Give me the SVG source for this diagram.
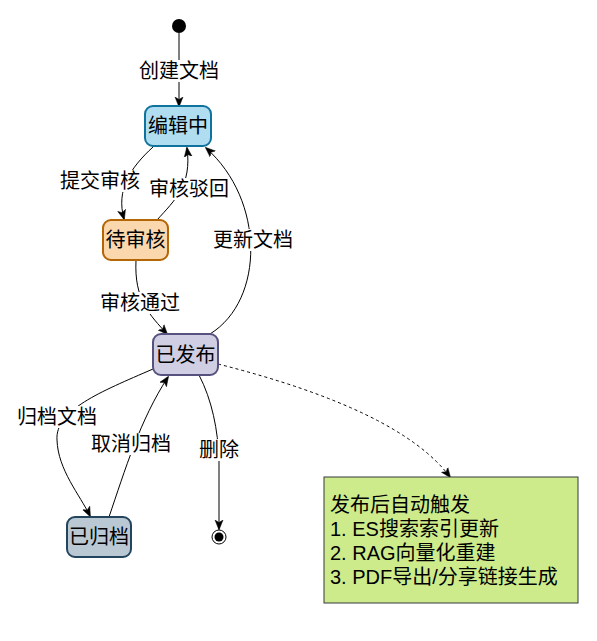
<svg xmlns="http://www.w3.org/2000/svg" width="597" height="641" viewBox="0 0 597 641">
<style>
text{font-family:"Liberation Sans","Noto Sans CJK SC",sans-serif;fill:#000;}
.n{font-size:20px;text-anchor:middle;dominant-baseline:central;}
.l{font-size:20px;text-anchor:middle;dominant-baseline:central;}
.t{font-size:20px;}
.e{fill:none;stroke:#000;stroke-width:1;marker-end:url(#arr);}
.d{stroke-dasharray:3 3;}
.bg{fill:#fff;}
</style>
<defs>
<marker id="arr" viewBox="0 0 10 10" refX="9" refY="5" markerWidth="10" markerHeight="10" markerUnits="userSpaceOnUse" orient="auto">
<path d="M0,1 L10,5 L0,9 L2.5,5 z" fill="#000" stroke="#000" stroke-width="0.5"/>
</marker>
</defs>
<rect width="597" height="641" fill="#fff"/>
<g id="edges">
<path class="e" d="M179,33 L179,106"/>
<path class="e" d="M153,147 C130,168 116,190 124,219"/>
<path class="e" d="M157,220 C175,200 192,185 187,148"/>
<path class="e" d="M210,334 C265,300 265,200 206,148"/>
<path class="e" d="M136,260 C134,300 150,315 167,334"/>
<path class="e" d="M153,369 C100,392 55,410 57,440 C58,470 80,495 90,516"/>
<path class="e" d="M109,517 C125,470 140,420 168,377"/>
<path class="e" d="M199,375 C212,400 218,430 219,460 L219,529"/>
<path class="e d" d="M218,364 Q400,410 450,477"/>
<rect class="bg" x="138" y="60" width="82" height="22"/>
<text class="l" x="179" y="71">创建文档</text>
<rect class="bg" x="59" y="170" width="82" height="22"/>
<text class="l" x="100" y="181">提交审核</text>
<rect class="bg" x="148" y="178" width="82" height="22"/>
<text class="l" x="189" y="189">审核驳回</text>
<rect class="bg" x="212" y="229" width="82" height="22"/>
<text class="l" x="253" y="240">更新文档</text>
<rect class="bg" x="99" y="292" width="82" height="22"/>
<text class="l" x="140" y="303">审核通过</text>
<rect class="bg" x="16" y="406" width="82" height="22"/>
<text class="l" x="57" y="417">归档文档</text>
<rect class="bg" x="90" y="433" width="82" height="22"/>
<text class="l" x="131" y="444">取消归档</text>
<rect class="bg" x="199" y="439" width="41" height="22"/>
<text class="l" x="219" y="450">删除</text>
</g>
<g id="start"><circle cx="179" cy="26" r="7" fill="#000"/></g>
<g id="editing"><rect x="145" y="106" width="66" height="40" rx="8" fill="#b1ddf0" stroke="#10739e" stroke-width="2"/><text class="n" x="178" y="126">编辑中</text></g>
<g id="pending"><rect x="103" y="220" width="65" height="40" rx="8" fill="#fad7ac" stroke="#b46504" stroke-width="2"/><text class="n" x="135.5" y="240">待审核</text></g>
<g id="published"><rect x="153" y="334" width="65" height="41" rx="8" fill="#d0cee2" stroke="#56517e" stroke-width="2"/><text class="n" x="185.5" y="354.5">已发布</text></g>
<g id="archived"><rect x="67" y="517" width="64" height="40" rx="8" fill="#bac8d3" stroke="#23445d" stroke-width="2"/><text class="n" x="99" y="537">已归档</text></g>
<g id="end"><circle cx="219" cy="537" r="7" fill="#fff" stroke="#000" stroke-width="1"/><circle cx="219" cy="537" r="4.5" fill="#000"/></g>
<g id="note"><rect x="324" y="477" width="254" height="126" fill="#cdeb8b" stroke="#36393d" stroke-width="1"/>
<text class="t" x="330" y="512">发布后自动触发</text>
<text class="t" x="330" y="536">1. ES搜索索引更新</text>
<text class="t" x="330" y="560">2. RAG向量化重建</text>
<text class="t" x="330" y="584">3. PDF导出/分享链接生成</text>
</g>
</svg>
